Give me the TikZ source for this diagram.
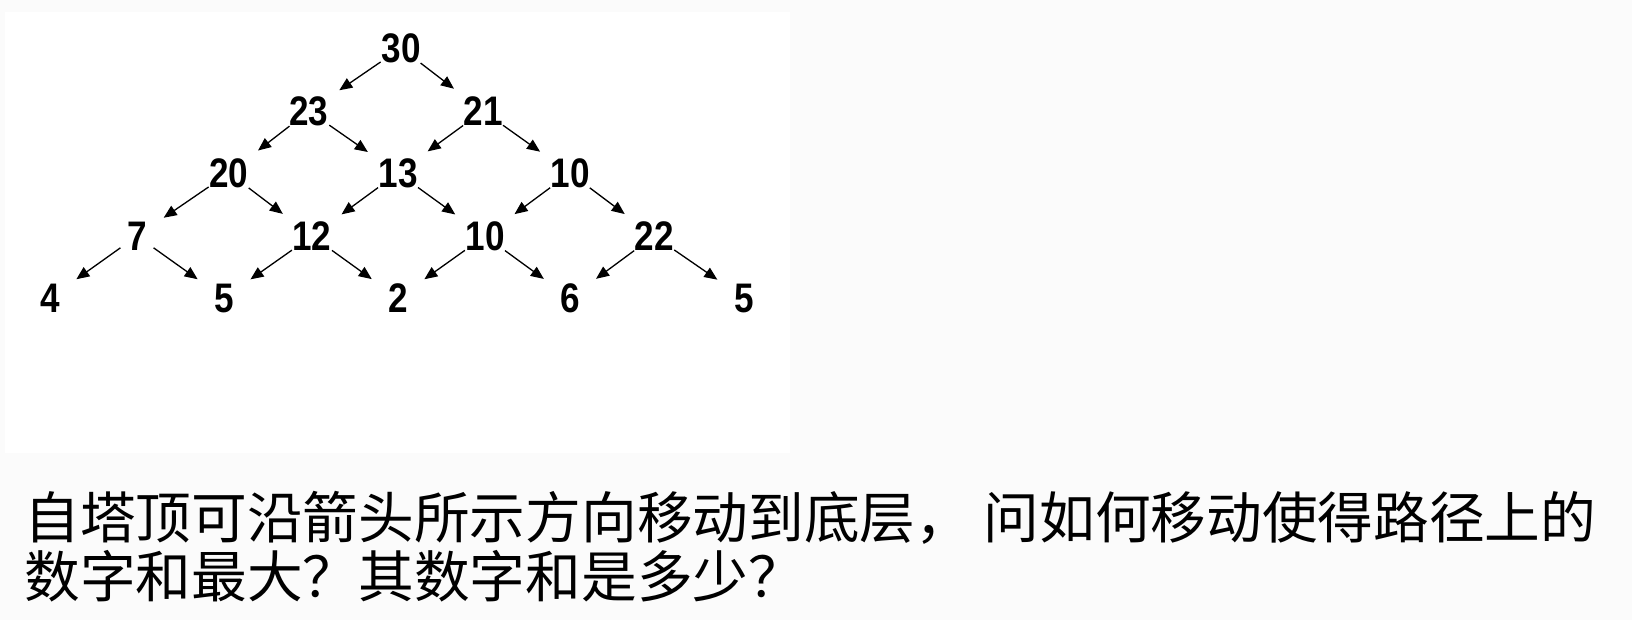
\documentclass[tikz,border=0pt]{standalone}
\usepackage{fontspec}
\usetikzlibrary{arrows.meta}
\newfontfamily\cjk{Noto Sans CJK SC}
\newfontfamily\numfont{Liberation Sans}[FakeStretch=0.85]
\definecolor{slidebg}{HTML}{FBFBFB}

\begin{document}
\begin{tikzpicture}[x=0.02cm, y=-0.02cm,
	num/.style={circle, inner sep=0pt, minimum size=0.8cm, font=\numfont\bfseries\fontsize{23.5}{25}\selectfont},
	arr/.style={line width=0.75pt, -{Triangle[length=0.26cm, width=0.22cm]}, shorten >=0.24cm},
	question/.style={anchor=base west, inner sep=0pt, font=\cjk\fontsize{31.7}{33}\selectfont}]
	\useasboundingbox (0,0) rectangle (1632,620);
	\fill[slidebg] (0,0) rectangle (1632,620);
	\fill[white] (5,12) rectangle (790,453);

	\node[num] (n00) at (401,48) {30};

	\node[num] (n10) at (309,111) {23};
	\node[num] (n11) at (483,111) {21};

	\node[num] (n20) at (229,173) {20};
	\node[num] (n21) at (398,173) {13};
	\node[num] (n22) at (570,173) {10};

	\node[num] (n30) at (137,236) {7};
	\node[num] (n31) at (312,236) {12};
	\node[num] (n32) at (485,236) {10};
	\node[num] (n33) at (654,236) {22};

	\node[num] (n40) at (50,298) {4};
	\node[num] (n41) at (224,298) {5};
	\node[num] (n42) at (398,298) {2};
	\node[num] (n43) at (570,298) {6};
	\node[num] (n44) at (744,298) {5};

	\foreach \p/\c in {n00/n10, n00/n11, n10/n20, n10/n21, n11/n21, n11/n22,
		n20/n30, n20/n31, n21/n31, n21/n32, n22/n32, n22/n33,
		n30/n40, n30/n41, n31/n41, n31/n42, n32/n42, n32/n43, n33/n43, n33/n44}
		\draw[arr] (\p) -- (\c);

	\node[question] (q1) at (24,538) {自塔顶可沿箭头所示方向移动到底层， 问如何移动使得路径上的};
	\node[question] (q2) at (24,597) {数字和最大？其数字和是多少？};
\end{tikzpicture}
\end{document}
